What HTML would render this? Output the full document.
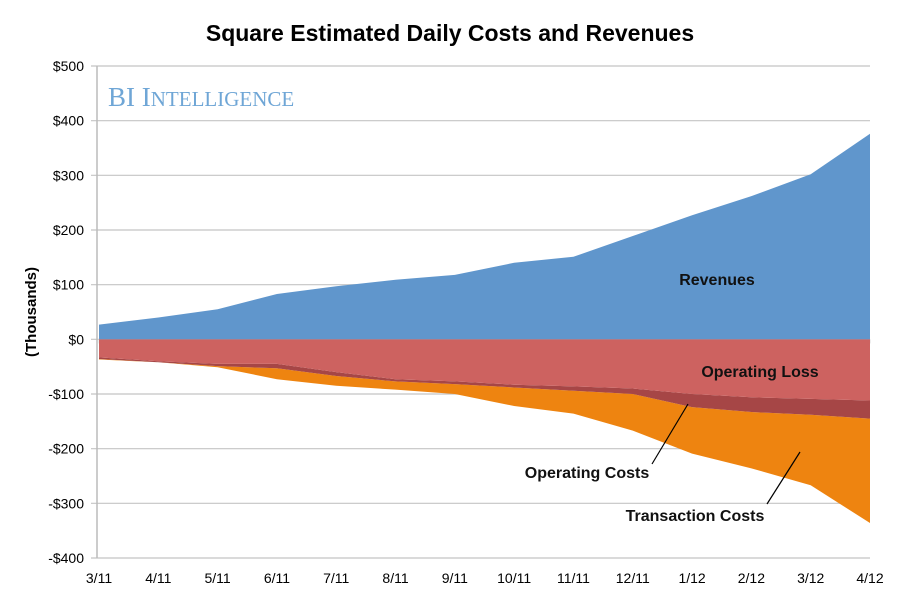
<!DOCTYPE html>
<html><head><meta charset="utf-8"><style>
body{margin:0;background:#fff;}
svg text{font-family:"Liberation Sans",sans-serif;}
svg text.serif{font-family:"Liberation Serif",serif;}
</style></head><body>
<svg id="chart" width="900" height="595" xmlns="http://www.w3.org/2000/svg">
<text x="450" y="41" text-anchor="middle" font-size="23" font-weight="bold" fill="#000">Square Estimated Daily Costs and Revenues</text>
<g id="grid"></g>
<g id="areas"></g>
<line x1="97" y1="66" x2="97" y2="558" stroke="#bbb" stroke-width="1.5"/>
<text class="serif" x="108" y="106" fill="#6fa6d6" font-size="27">BI I<tspan font-size="21">NTELLIGENCE</tspan></text>
<text transform="translate(36,312) rotate(-90)" text-anchor="middle" font-size="15" font-weight="bold">(Thousands)</text>
<text x="717" y="285" text-anchor="middle" font-size="16" font-weight="bold" fill="#111">Revenues</text>
<text x="760" y="377" text-anchor="middle" font-size="16" font-weight="bold" fill="#111">Operating Loss</text>
<text x="587" y="478" text-anchor="middle" font-size="16" font-weight="bold" fill="#111">Operating Costs</text>
<text x="695" y="521" text-anchor="middle" font-size="16" font-weight="bold" fill="#111">Transaction Costs</text>
<line x1="652" y1="464" x2="688" y2="404" stroke="#000" stroke-width="1.2"/>
<line x1="767" y1="504" x2="800" y2="452" stroke="#000" stroke-width="1.2"/>
</svg>
<script>
const categories=["3/11","4/11","5/11","6/11","7/11","8/11","9/11","10/11","11/11","12/11","1/12","2/12","3/12","4/12"];
const revenues=[27,40,55,83,97,109,118,140,151,189,227,262,302,376];
const operatingLoss=[-33,-40,-45,-45,-60,-73,-77,-83,-86,-90,-100,-106,-109,-112];
const operatingCosts=[-36,-42,-49,-53,-67,-77,-82,-88,-94,-100,-124,-133,-138,-145];
const totalCosts=[-37,-42,-51,-73,-85,-92,-100,-122,-136,-167,-209,-236,-267,-336];
const yTicks=[500,400,300,200,100,0,-100,-200,-300,-400];
const yTickLabels=["$500","$400","$300","$200","$100","$0","-$100","-$200","-$300","-$400"];
const NS="http://www.w3.org/2000/svg";
const x0=99,x1=870,yTop=66,yBot=558,vTop=500,vBot=-400;
function xs(i){return x0+(x1-x0)*i/(categories.length-1);}
function ys(v){return yTop+(vTop-v)*(yBot-yTop)/(vTop-vBot);}
const grid=document.getElementById('grid'),areas=document.getElementById('areas');
yTicks.forEach((t,i)=>{
 const l=document.createElementNS(NS,'line');
 
 
 l.setAttribute('x1',91);l.setAttribute('x2',x1);l.setAttribute('y1',ys(t));l.setAttribute('y2',ys(t));
 l.setAttribute('stroke','#c4c4c4');l.setAttribute('stroke-width','1.2');grid.appendChild(l);
 const tx=document.createElementNS(NS,'text');
 
 
 tx.setAttribute('x',84);tx.setAttribute('y',ys(t)+5);tx.setAttribute('text-anchor','end');tx.setAttribute('font-size','14');
 tx.textContent=yTickLabels[i];grid.appendChild(tx);
});
categories.forEach((c,i)=>{
 const tx=document.createElementNS(NS,'text');
 
 
 tx.setAttribute('x',xs(i));tx.setAttribute('y',583);tx.setAttribute('text-anchor','middle');tx.setAttribute('font-size','14');
 tx.textContent=c;grid.appendChild(tx);
 const tk=document.createElementNS(NS,'line');
 
 
 tk.setAttribute('x1',xs(i));tk.setAttribute('x2',xs(i));tk.setAttribute('y1',ys(0));tk.setAttribute('y2',ys(0)+4);
 tk.setAttribute('stroke','#ddd');grid.appendChild(tk);
});
function band(top,bot,fill,name){
 let d='M'+xs(0)+','+ys(top[0]);
 for(let i=1;i<top.length;i++)d+='L'+xs(i)+','+ys(top[i]);
 for(let i=bot.length-1;i>=0;i--)d+='L'+xs(i)+','+ys(bot[i]);
 const p=document.createElementNS(NS,'path');
 
 
 p.setAttribute('d',d+'Z');p.setAttribute('fill',fill);areas.appendChild(p);
}
const zeros=categories.map(()=>0);
band(revenues,zeros,'#6096cc','revenues-area');
band(operatingCosts,totalCosts,'#ee8410','transaction-costs-area');
band(operatingLoss,operatingCosts,'#a64646','operating-costs-area');
band(zeros,operatingLoss,'#cd6260','operating-loss-area');
</script>
</body></html>
